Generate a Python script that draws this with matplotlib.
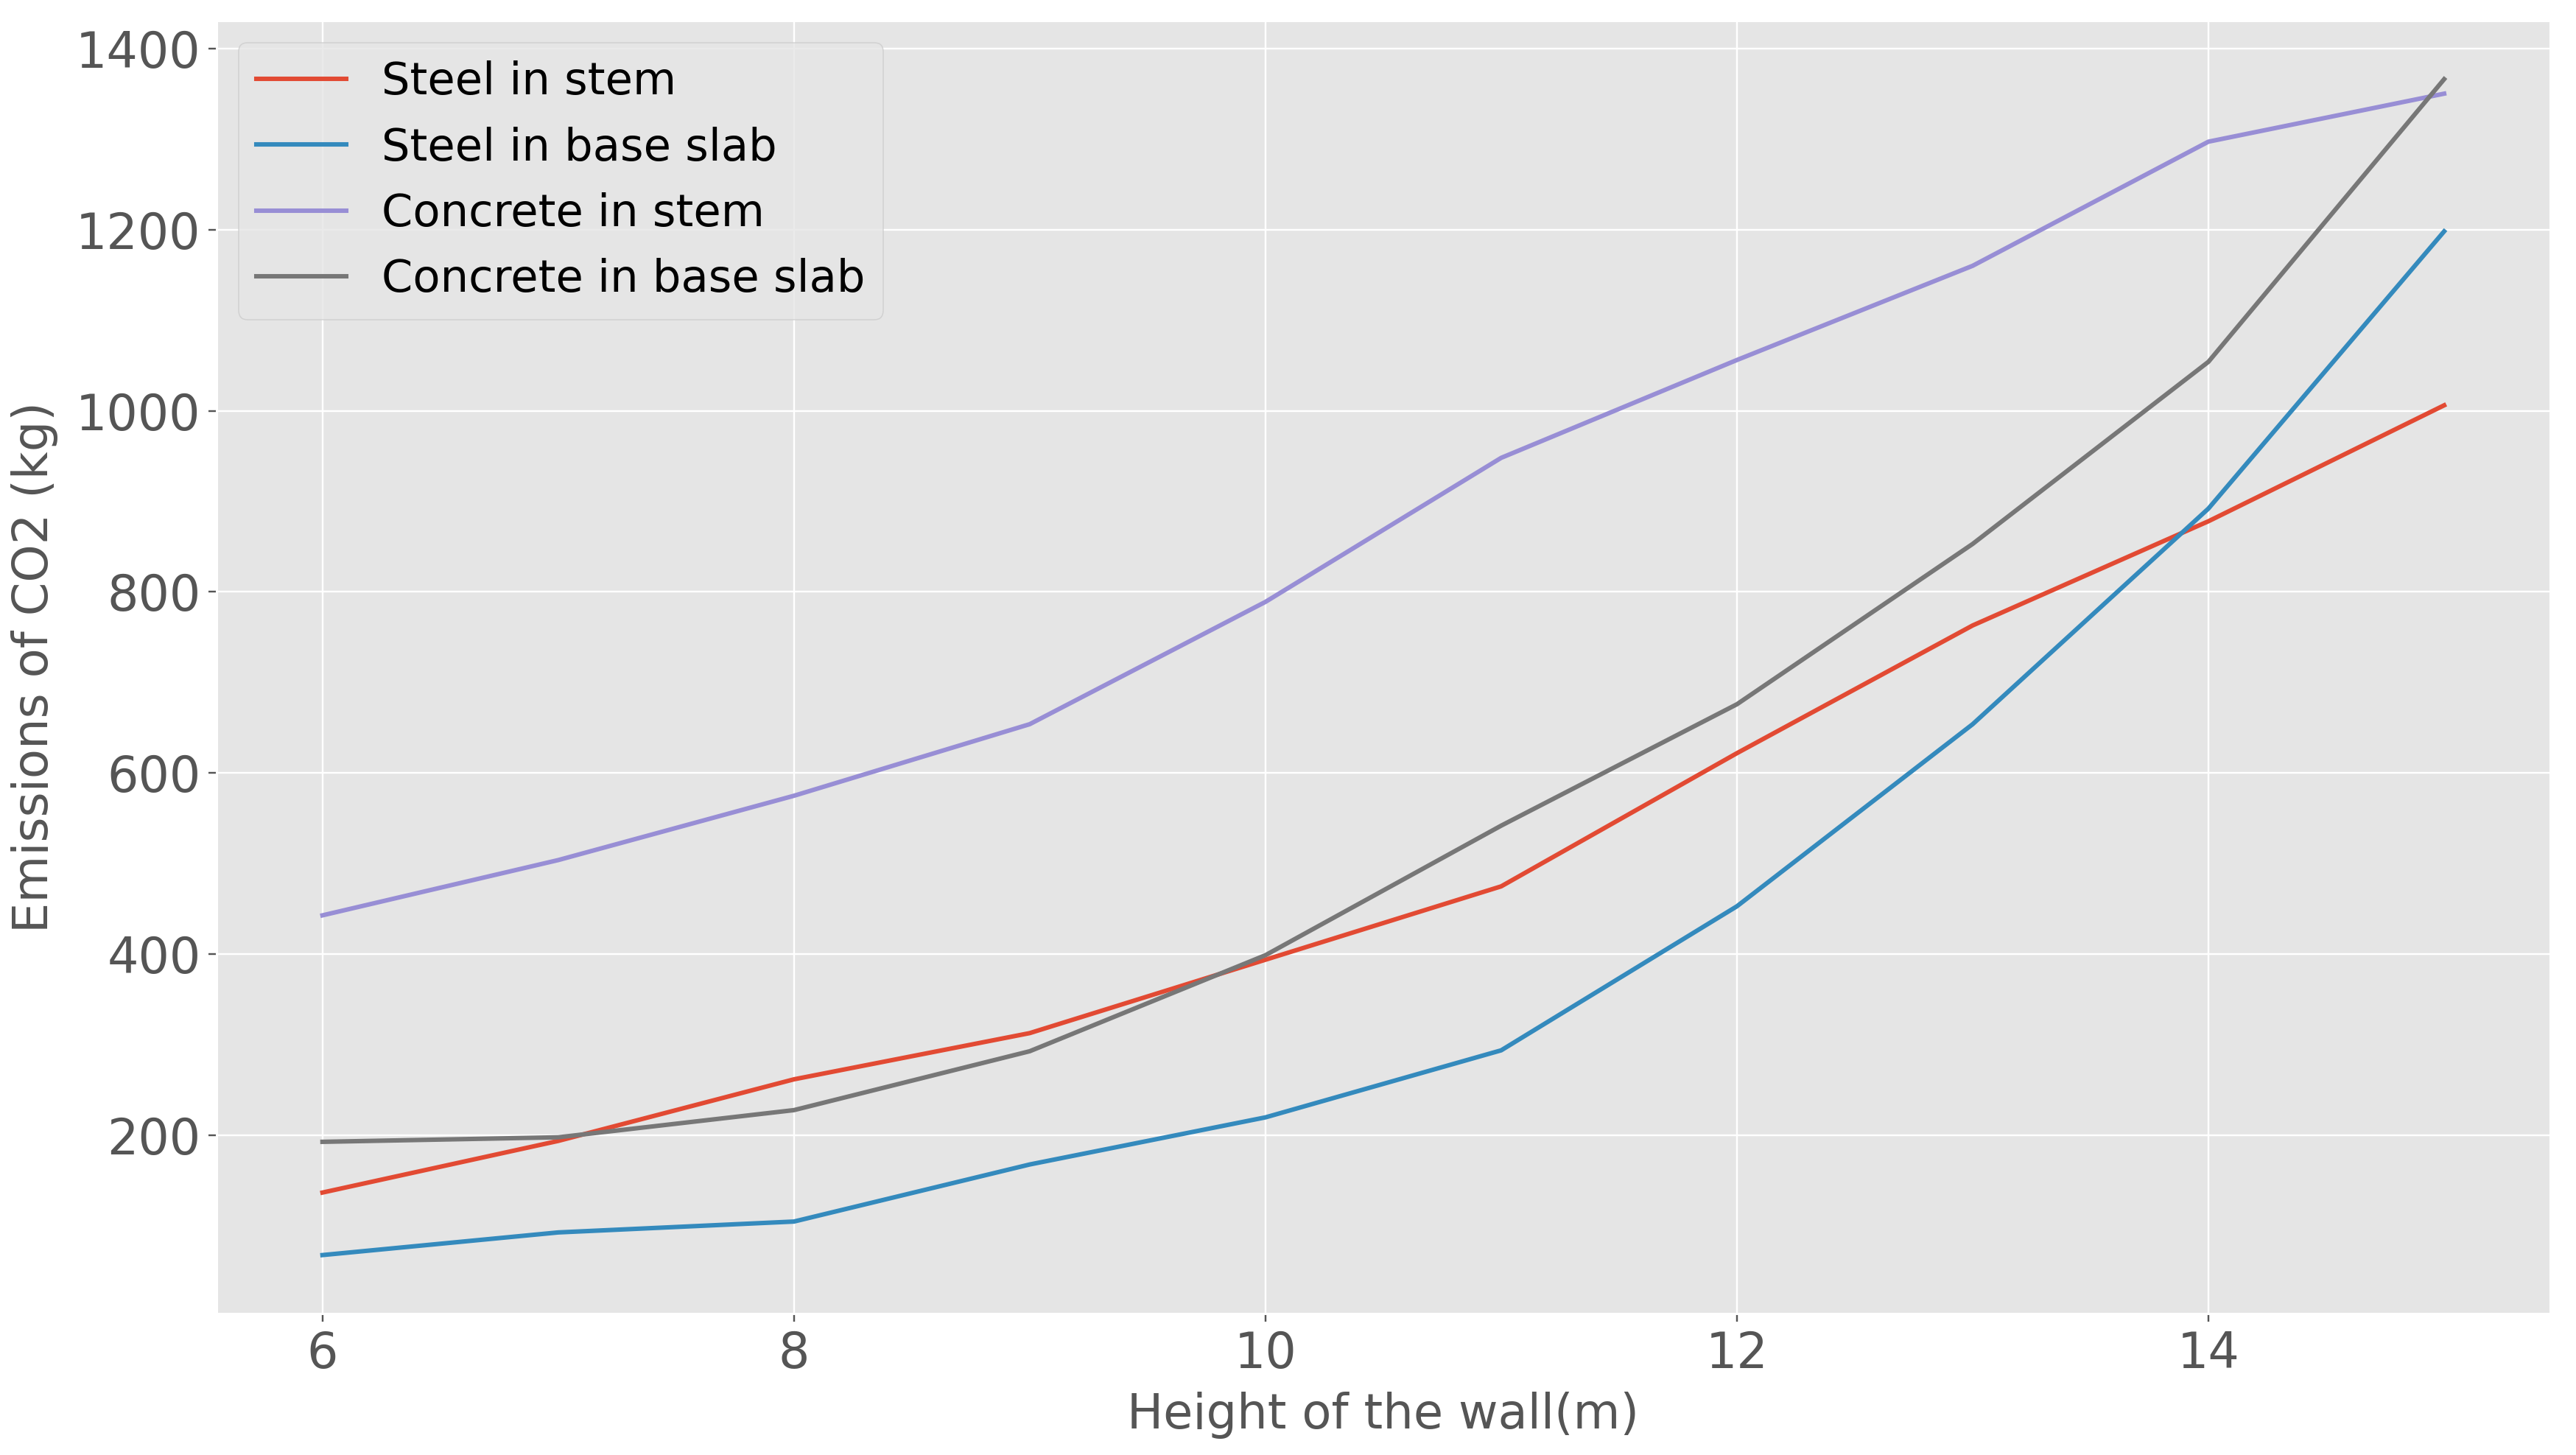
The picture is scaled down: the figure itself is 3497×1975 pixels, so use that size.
import matplotlib
matplotlib.use("Agg")
import matplotlib.pyplot as plt

plt.style.use("ggplot")

heights = [6, 7, 8, 9, 10, 11, 12, 13, 14, 15]
steel_stem = [137, 194, 262, 313, 394, 475, 622, 763, 878, 1006]
steel_base = [68, 93, 105, 168, 220, 294, 453, 654, 892, 1198]
concrete_stem = [443, 504, 575, 654, 789, 948, 1056, 1160, 1297, 1350]
concrete_base = [193, 198, 228, 293, 399, 542, 676, 853, 1054, 1366]
labels = ["Steel in stem", "Steel in base slab", "Concrete in stem", "Concrete in base slab"]

dpi = 218.56
fig = plt.figure(figsize=(3497 / dpi, 1975 / dpi), dpi=dpi)
ax = fig.add_axes([0.084, 0.097, 0.906, 0.889])

for series, lab in zip([steel_stem, steel_base, concrete_stem, concrete_base], labels):
    ax.plot(heights, series, label=lab, linewidth=2.0)

ax.set_xlabel("Height of the wall(m)", fontsize=21.6, labelpad=6)
ax.set_ylabel("Emissions of CO2 (kg)", fontsize=21.6, labelpad=8)
ax.tick_params(axis="both", labelsize=22)
ax.set_yticks([200, 400, 600, 800, 1000, 1200, 1400])
ax.legend(fontsize=20, loc="upper left")

fig.savefig("out.png", dpi=dpi)
